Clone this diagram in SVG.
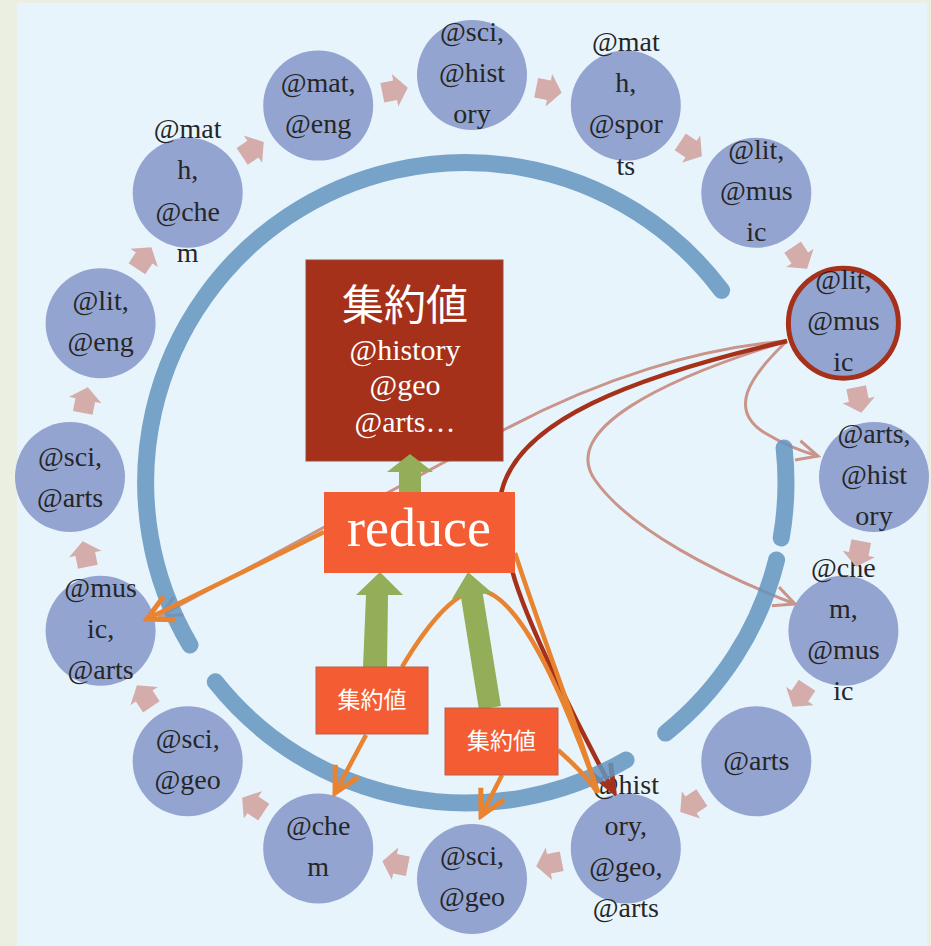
<svg xmlns="http://www.w3.org/2000/svg" width="931" height="946" viewBox="0 0 931 946">
  <style>
    .node circle { fill: #94A4D0; }
    .node text { font-family: "Liberation Serif", "DejaVu Serif", serif; font-size: 28px; fill: #262626; text-anchor: middle; }
    .step { fill: #D4ADAA; }
    .ring { fill: none; stroke: #6494BE; stroke-opacity: 0.85; stroke-width: 17; stroke-linecap: round; }
    .pink { fill: none; stroke: #C9958B; stroke-width: 3; }
    .dark { fill: none; stroke: #A5311A; stroke-width: 4.5; }
    .orange { fill: none; stroke: #E8832F; stroke-width: 4.5; }
    .green { fill: #94AD58; }
    .box { fill: #F45D34; }
    .wt { fill: #FFFFFF; text-anchor: middle; }
    .serif { font-family: "Liberation Serif", "DejaVu Serif", serif; }
    .cjk { font-family: "Noto Sans CJK JP", "Noto Sans CJK SC", sans-serif; }
  </style>
  <defs>
    <!-- small block arrow pointing along +x, centred on the origin -->
    <path id="ba" class="step" d="M-13,-10 H0 V-16.5 L13,0 L0,16.5 V10 H-13 Z"/>
    <marker id="mPink" markerUnits="userSpaceOnUse" orient="auto" viewBox="-26 -14 30 28" refX="0" refY="0" markerWidth="30" markerHeight="28">
      <path d="M-21,-10 L0,0 L-21,10" fill="none" stroke="#C9958B" stroke-width="3"/>
    </marker>
    <marker id="mDark" markerUnits="userSpaceOnUse" orient="auto" viewBox="-32 -18 36 36" refX="0" refY="0" markerWidth="36" markerHeight="36">
      <path d="M-27,-11 L0,0 L-27,11" fill="none" stroke="#A5311A" stroke-width="5"/>
    </marker>
    <marker id="mOrange" markerUnits="userSpaceOnUse" orient="auto" viewBox="-32 -18 36 36" refX="0" refY="0" markerWidth="36" markerHeight="36">
      <path d="M-25,-13 L0,0 L-25,13" fill="none" stroke="#E8832F" stroke-width="5"/>
    </marker>
  </defs>

  <!-- page and panel -->
  <rect x="0" y="0" width="931" height="946" fill="#EBEFE2"/>
  <rect x="17" y="3" width="910" height="943" fill="#E8F4FC"/>

  <!-- nodes -->
  <g id="n0" class="node"><circle cx="472" cy="75" r="55"/><text><tspan x="472" y="41">@sci,</tspan><tspan x="472" y="82">@hist</tspan><tspan x="472" y="123">ory</tspan></text></g>
  <g id="n1" class="node"><circle cx="625.8" cy="105.6" r="55"/><text><tspan x="625.8" y="51">@mat</tspan><tspan x="625.8" y="92">h,</tspan><tspan x="625.8" y="133">@spor</tspan><tspan x="625.8" y="175">ts</tspan></text></g>
  <g id="n2" class="node"><circle cx="756.3" cy="192.7" r="55"/><text><tspan x="756.3" y="159">@lit,</tspan><tspan x="756.3" y="200">@mus</tspan><tspan x="756.3" y="241">ic</tspan></text></g>
  <g id="n3" class="node"><circle cx="843.4" cy="323.2" r="55" stroke="#A5311A" stroke-width="5"/><text><tspan x="843.4" y="289">@lit,</tspan><tspan x="843.4" y="330">@mus</tspan><tspan x="843.4" y="371">ic</tspan></text></g>
  <g id="n4" class="node"><circle cx="874" cy="477" r="55"/><text><tspan x="874" y="443">@arts,</tspan><tspan x="874" y="484">@hist</tspan><tspan x="874" y="525">ory</tspan></text></g>
  <g id="n5" class="node"><circle cx="843.4" cy="630.8" r="55"/><text><tspan x="843.4" y="577">@che</tspan><tspan x="843.4" y="618">m,</tspan><tspan x="843.4" y="659">@mus</tspan><tspan x="843.4" y="700">ic</tspan></text></g>
  <g id="n6" class="node"><circle cx="756.3" cy="761.3" r="55"/><text><tspan x="756.3" y="770">@arts</tspan></text></g>
  <g id="n7" class="node"><circle cx="625.8" cy="848.4" r="55"/><text><tspan x="625.8" y="794">@hist</tspan><tspan x="625.8" y="835">ory,</tspan><tspan x="625.8" y="876">@geo,</tspan><tspan x="625.8" y="917">@arts</tspan></text></g>
  <g id="n8" class="node"><circle cx="472" cy="879" r="55"/><text><tspan x="472" y="865">@sci,</tspan><tspan x="472" y="906">@geo</tspan></text></g>
  <g id="n9" class="node"><circle cx="318.2" cy="848.4" r="55"/><text><tspan x="318.2" y="835">@che</tspan><tspan x="318.2" y="876">m</tspan></text></g>
  <g id="n10" class="node"><circle cx="187.7" cy="761.3" r="55"/><text><tspan x="187.7" y="748">@sci,</tspan><tspan x="187.7" y="789">@geo</tspan></text></g>
  <g id="n11" class="node"><circle cx="100.6" cy="630.8" r="55"/><text><tspan x="100.6" y="597">@mus</tspan><tspan x="100.6" y="638">ic,</tspan><tspan x="100.6" y="679">@arts</tspan></text></g>
  <g id="n12" class="node"><circle cx="70" cy="477" r="55"/><text><tspan x="70" y="466">@sci,</tspan><tspan x="70" y="507">@arts</tspan></text></g>
  <g id="n13" class="node"><circle cx="100.6" cy="323.2" r="55"/><text><tspan x="100.6" y="310">@lit,</tspan><tspan x="100.6" y="351">@eng</tspan></text></g>
  <g id="n14" class="node"><circle cx="187.7" cy="192.7" r="55"/><text><tspan x="187.7" y="138">@mat</tspan><tspan x="187.7" y="179">h,</tspan><tspan x="187.7" y="221">@che</tspan><tspan x="187.7" y="262">m</tspan></text></g>
  <g id="n15" class="node"><circle cx="318.2" cy="105.6" r="55"/><text><tspan x="318.2" y="92">@mat,</tspan><tspan x="318.2" y="133">@eng</tspan></text></g>

  <!-- step arrows between neighbouring nodes -->
  <g id="steps">
    <use href="#ba" transform="translate(472 477) rotate(-11.25) translate(0 -394.3)"/>
    <use href="#ba" transform="translate(472 477) rotate(11.25) translate(0 -394.3)"/>
    <use href="#ba" transform="translate(472 477) rotate(33.75) translate(0 -394.3)"/>
    <use href="#ba" transform="translate(472 477) rotate(56.25) translate(0 -394.3)"/>
    <use href="#ba" transform="translate(472 477) rotate(78.75) translate(0 -394.3)"/>
    <use href="#ba" transform="translate(472 477) rotate(101.25) translate(0 -394.3)"/>
    <use href="#ba" transform="translate(472 477) rotate(123.75) translate(0 -394.3)"/>
    <use href="#ba" transform="translate(472 477) rotate(146.25) translate(0 -394.3)"/>
    <use href="#ba" transform="translate(472 477) rotate(168.75) translate(0 -394.3)"/>
    <use href="#ba" transform="translate(472 477) rotate(191.25) translate(0 -394.3)"/>
    <use href="#ba" transform="translate(472 477) rotate(213.75) translate(0 -394.3)"/>
    <use href="#ba" transform="translate(472 477) rotate(236.25) translate(0 -394.3)"/>
    <use href="#ba" transform="translate(472 477) rotate(258.75) translate(0 -394.3)"/>
    <use href="#ba" transform="translate(472 477) rotate(281.25) translate(0 -394.3)"/>
    <use href="#ba" transform="translate(472 477) rotate(303.75) translate(0 -394.3)"/>
    <use href="#ba" transform="translate(472 477) rotate(326.25) translate(0 -394.3)"/>
  </g>

  <g id="connectors">
    <!-- links leaving the highlighted node (under the ring) -->
    <path class="pink" d="M787,341 C700,348 600,378 500,432 L160,616" marker-end="url(#mPink)"/>
    <path class="pink" d="M787,341 C748,378 728,410 765,433 C785,445 800,451 818,456" marker-end="url(#mPink)"/>
    <path class="pink" d="M787,341 C660,380 560,430 595,480 C630,530 720,575 795,604" marker-end="url(#mPink)"/>
    <path class="dark" d="M787,341 C640,375 510,420 500,500 L512,570 C525,620 580,730 614,792" marker-end="url(#mDark)"/>

    <!-- broken ring -->
    <path class="ring" d="M190,645 A320,320 0 0 1 721.6,290.4"/>
    <path class="ring" d="M784.1,447.9 A320,320 0 0 1 781.2,538"/>
    <path class="ring" d="M776.6,559.9 A320,320 0 0 1 665.6,733.1"/>
    <path class="ring" d="M626,760 A320,320 0 0 1 215.3,681.8"/>

    <!-- orange flows -->
    <path class="orange" d="M324,532 L147,619" marker-end="url(#mOrange)"/>
    <path class="orange" d="M515,553 C540,630 575,720 598,793"/>
    <path class="orange" d="M402,667 C430,620 455,592 478,590 C520,592 565,700 598,792"/>
    <path class="orange" d="M558,750 C575,765 588,778 597,792"/>
    <path class="orange" d="M366,735 L335,793" marker-end="url(#mOrange)"/>
    <path class="orange" d="M502,775 L481,816" marker-end="url(#mOrange)"/>
  </g>

  <!-- aggregated value box -->
  <g id="result">
    <rect x="306" y="260" width="197" height="201" fill="#A5311A" stroke="#9A4A3A" stroke-width="1"/>
    <text class="wt cjk" x="405" y="320" font-size="42">集約値</text>
    <text class="wt serif" x="405" y="360" font-size="30">@history</text>
    <text class="wt serif" x="405" y="395" font-size="30">@geo</text>
    <text class="wt serif" x="405" y="432" font-size="30">@arts…</text>
  </g>

  <!-- green flow arrows -->
  <g id="flows">
    <polygon class="green" points="399,492 399,472 387,472 410,454 433,472 421,472 421,492"/>
    <polygon class="green" points="363,667 366,595 356,595 380,572 403,595 388,595 387,667"/>
    <polygon class="green" points="479,710 461,597.5 452,599 468,572 491.6,592.5 482.8,594 500.9,706"/>
  </g>

  <!-- reduce box -->
  <g id="reduce">
    <rect class="box" x="324" y="492" width="191" height="81"/>
    <text class="wt serif" x="419" y="546" font-size="54">reduce</text>
  </g>

  <!-- partial values -->
  <g id="part1">
    <rect class="box" x="316" y="667" width="112" height="67" stroke="#B8604C" stroke-width="1"/>
    <text class="wt cjk" x="372" y="708" font-size="23">集約値</text>
  </g>
  <g id="part2">
    <rect class="box" x="445" y="708" width="113" height="67" stroke="#B8604C" stroke-width="1"/>
    <text class="wt cjk" x="501.5" y="749" font-size="23">集約値</text>
  </g>
</svg>
